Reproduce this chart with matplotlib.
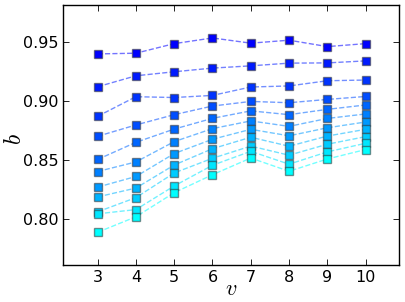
import matplotlib
matplotlib.use('Agg')
import matplotlib.pyplot as plt
import numpy as np

plt.rcParams['mathtext.fontset'] = 'cm'

v = [3, 4, 5, 6, 7, 8, 9, 10]

# one list per v value, sorted from top series (blue) to bottom (cyan)
b_v3 = [0.9396, 0.9118, 0.8868, 0.8699, 0.8503, 0.8401, 0.8269, 0.8186, 0.8060, 0.8043, 0.7887]
b_v4 = [0.9402, 0.9211, 0.9034, 0.8795, 0.8648, 0.8482, 0.8359, 0.8261, 0.8180, 0.8079, 0.8018]
b_v5 = [0.9483, 0.9245, 0.9027, 0.8882, 0.8760, 0.8654, 0.8553, 0.8456, 0.8389, 0.8279, 0.8222]
b_v6 = [0.9531, 0.9276, 0.9045, 0.8955, 0.8851, 0.8764, 0.8674, 0.8594, 0.8513, 0.8454, 0.8374]
b_v7 = [0.9487, 0.9295, 0.9116, 0.8994, 0.8914, 0.8829, 0.8758, 0.8691, 0.8616, 0.8572, 0.8515]
b_v8 = [0.9512, 0.9318, 0.9125, 0.8983, 0.8882, 0.8783, 0.8703, 0.8615, 0.8539, 0.8463, 0.8403]
b_v9 = [0.9458, 0.9320, 0.9169, 0.9011, 0.8927, 0.8850, 0.8771, 0.8701, 0.8632, 0.8567, 0.8507]
b_v10 = [0.9483, 0.9337, 0.9175, 0.9036, 0.8964, 0.8888, 0.8820, 0.8758, 0.8696, 0.8640, 0.8587]

table = np.array([b_v3, b_v4, b_v5, b_v6, b_v7, b_v8, b_v9, b_v10]).T
n = table.shape[0]

fig = plt.figure(figsize=(4.05, 3.02), dpi=100)
ax = fig.add_axes([0.156, 0.1225, 0.83, 0.861])

for i in range(n):
    col = (0.0, i / (n - 1), 1.0)
    ax.plot(v, table[i], '--', color=col, alpha=0.55, lw=1.0)
for i in range(n):
    col = (0.0, i / (n - 1), 1.0)
    ax.plot(v, table[i], 's', color=col, ms=6, mec=(0.2, 0.2, 0.2, 0.55), mew=1.0)

ax.set_xlim(2.1, 10.88)
ax.set_ylim(0.761, 0.981)
ax.set_xticks(v)
ax.set_yticks([0.80, 0.85, 0.90, 0.95])
ax.set_yticklabels(['0.80', '0.85', '0.90', '0.95'])
ax.tick_params(direction='in', top=True, right=True, labelsize=11.5, length=4, width=0.6)
for s in ax.spines.values():
    s.set_linewidth(1.0)
ax.set_xlabel('$v$', fontsize=16)
ax.set_ylabel('$b$', fontsize=17)
ax.xaxis.set_label_coords(0.5, -0.052)
ax.yaxis.set_label_coords(-0.11, 0.485)

fig.savefig('out.png', dpi=100)
